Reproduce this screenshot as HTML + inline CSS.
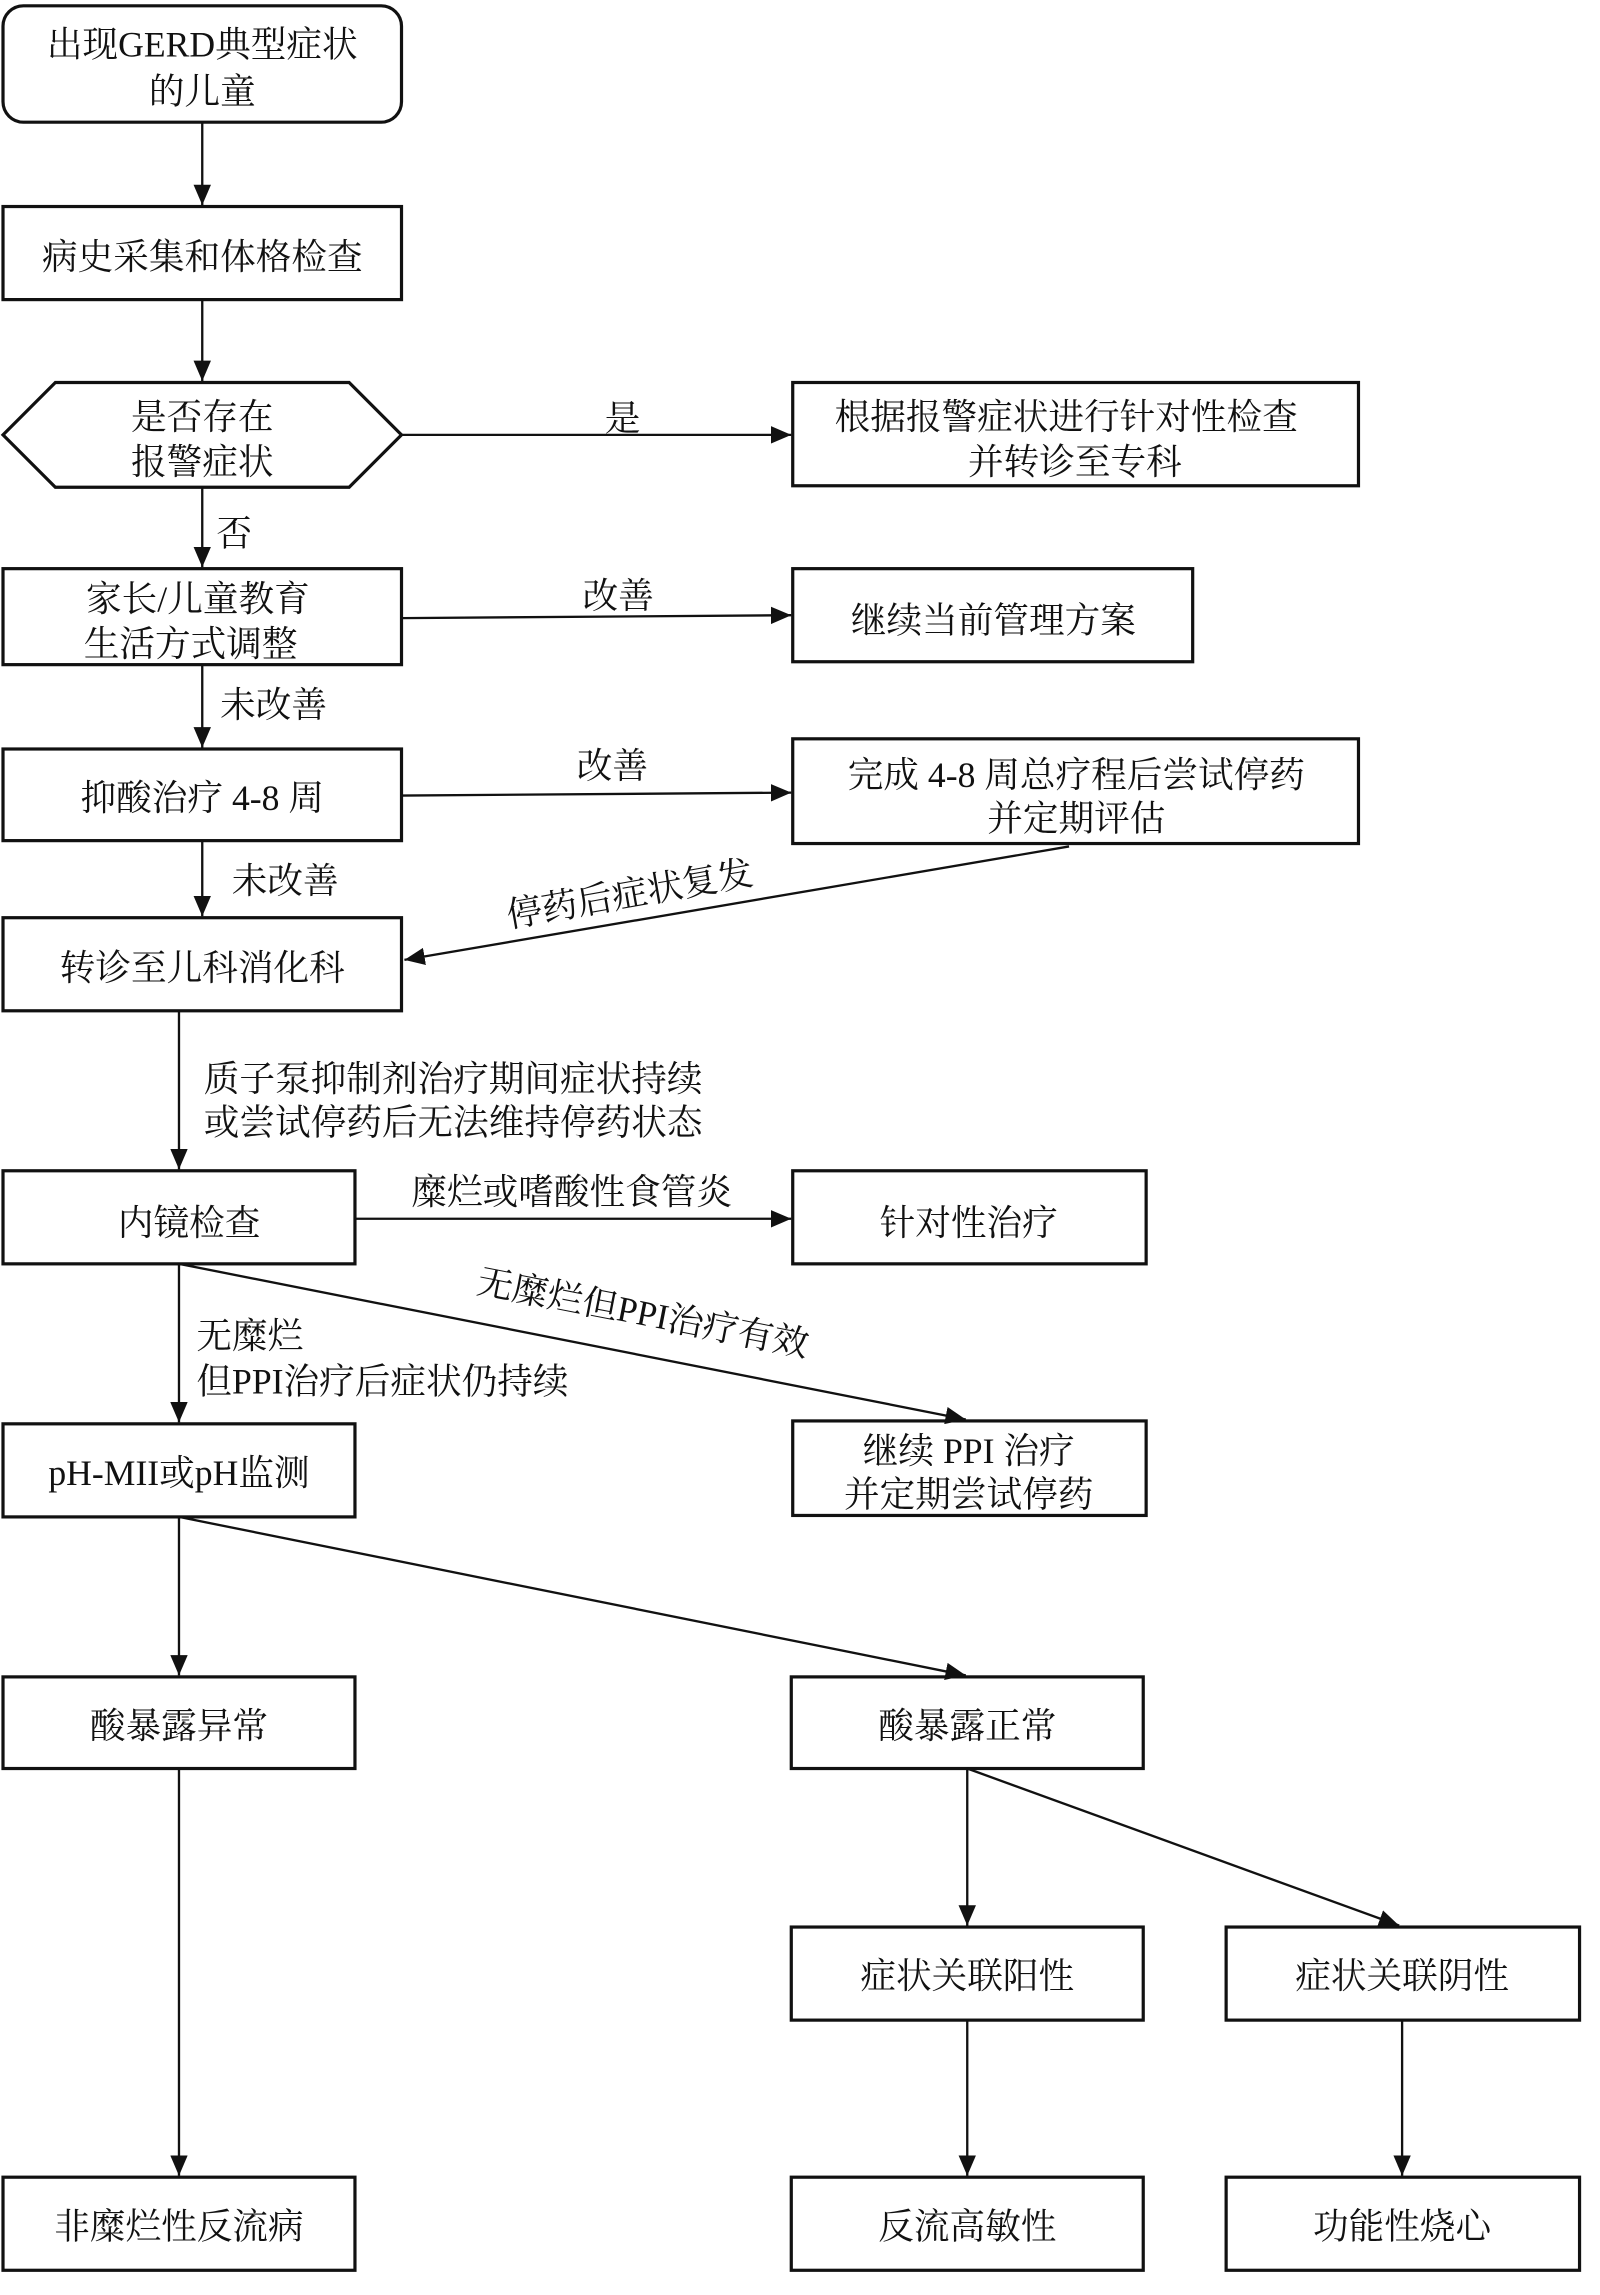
<!DOCTYPE html>
<html><head><meta charset="utf-8"><style>
html,body{margin:0;padding:0;background:#fff;}
svg{display:block;}
text{font-family:"Liberation Serif","Noto Serif CJK SC",serif;font-size:24.5px;fill:#111;}
</style></head><body>
<svg width="1600" height="2295" viewBox="0 0 1100 1578" xmlns="http://www.w3.org/2000/svg">
<defs><marker id="a" markerWidth="14" markerHeight="12" refX="14" refY="6" orient="auto" markerUnits="userSpaceOnUse"><path d="M0,0L14,6L0,12z" fill="#111"/></marker></defs>
<g fill="none" stroke="#111" stroke-width="2.2">
<rect x="2" y="4" width="274" height="80" rx="14"/>
<rect x="2" y="142" width="274" height="64"/>
<polygon points="2,299 38,263 240,263 276,299 240,335 38,335"/>
<rect x="545" y="263" width="389" height="71"/>
<rect x="2" y="391" width="274" height="66"/>
<rect x="545" y="391" width="275" height="64"/>
<rect x="2" y="515" width="274" height="63"/>
<rect x="545" y="508" width="389" height="72"/>
<rect x="2" y="631" width="274" height="64"/>
<rect x="2" y="805" width="242" height="64"/>
<rect x="545" y="805" width="243" height="64"/>
<rect x="2" y="979" width="242" height="64"/>
<rect x="545" y="977" width="243" height="65"/>
<rect x="2" y="1153" width="242" height="63"/>
<rect x="544" y="1153" width="242" height="63"/>
<rect x="544" y="1325" width="242" height="64"/>
<rect x="843" y="1325" width="243" height="64"/>
<rect x="2" y="1497" width="242" height="64"/>
<rect x="544" y="1497" width="242" height="64"/>
<rect x="843" y="1497" width="243" height="64"/>
</g>
<g stroke="#111" stroke-width="1.6" marker-end="url(#a)">
<line x1="139" y1="84" x2="139" y2="141"/>
<line x1="139" y1="206" x2="139" y2="262"/>
<line x1="276" y1="299" x2="544" y2="299"/>
<line x1="139" y1="335" x2="139" y2="390"/>
<line x1="276" y1="425" x2="544" y2="423"/>
<line x1="139" y1="457" x2="139" y2="514"/>
<line x1="276" y1="547" x2="544" y2="545"/>
<line x1="139" y1="578" x2="139" y2="630"/>
<line x1="735" y1="582" x2="278" y2="660"/>
<line x1="123" y1="695" x2="123" y2="804"/>
<line x1="244" y1="838" x2="544" y2="838"/>
<line x1="123" y1="869" x2="664" y2="976"/>
<line x1="123" y1="869" x2="123" y2="978"/>
<line x1="123" y1="1043" x2="123" y2="1152"/>
<line x1="123" y1="1043" x2="664" y2="1152"/>
<line x1="123" y1="1216" x2="123" y2="1496"/>
<line x1="665" y1="1216" x2="665" y2="1324"/>
<line x1="665" y1="1216" x2="962" y2="1324"/>
<line x1="665" y1="1389" x2="665" y2="1496"/>
<line x1="964" y1="1389" x2="964" y2="1496"/>
</g>
<g text-anchor="middle">
<text x="139" y="39">出现GERD典型症状</text>
<text x="139" y="71">的儿童</text>
<text x="139" y="185">病史采集和体格检查</text>
<text x="139" y="295">是否存在</text>
<text x="139" y="326">报警症状</text>
<text x="428" y="296">是</text>
<text x="733" y="295">根据报警症状进行针对性检查</text>
<text x="739" y="326">并转诊至专科</text>
<text x="161" y="375">否</text>
<text x="136" y="420">家长/儿童教育</text>
<text x="131" y="451">生活方式调整</text>
<text x="425" y="418">改善</text>
<text x="683" y="435">继续当前管理方案</text>
<text x="188" y="493">未改善</text>
<text x="139" y="557">抑酸治疗 4-8 周</text>
<text x="421" y="535">改善</text>
<text x="740" y="541">完成 4-8 周总疗程后尝试停药</text>
<text x="740" y="571">并定期评估</text>
<text x="196" y="614">未改善</text>
<text x="433" y="623" transform="rotate(-10 433 615)">停药后症状复发</text>
<text x="139" y="674">转诊至儿科消化科</text>
<text x="130" y="849">内镜检查</text>
<text x="393" y="828">糜烂或嗜酸性食管炎</text>
<text x="666" y="849">针对性治疗</text>
<text x="442" y="911" transform="rotate(11 442 903)">无糜烂但PPI治疗有效</text>
<text x="123" y="1021">pH-MII或pH监测</text>
<text x="666" y="1006">继续 PPI 治疗</text>
<text x="666" y="1036">并定期尝试停药</text>
<text x="123" y="1195">酸暴露异常</text>
<text x="665" y="1195">酸暴露正常</text>
<text x="665" y="1367">症状关联阳性</text>
<text x="964" y="1367">症状关联阴性</text>
<text x="123" y="1539">非糜烂性反流病</text>
<text x="665" y="1539">反流高敏性</text>
<text x="964" y="1539">功能性烧心</text>
</g>
<g text-anchor="start">
<text x="140" y="750">质子泵抑制剂治疗期间症状持续</text>
<text x="140" y="780">或尝试停药后无法维持停药状态</text>
<text x="135" y="927">无糜烂</text>
<text x="135" y="958">但PPI治疗后症状仍持续</text>
</g>
</svg>
</body></html>
